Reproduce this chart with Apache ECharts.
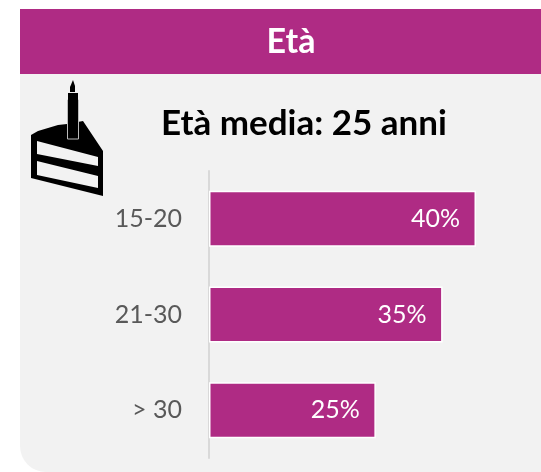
<!DOCTYPE html>
<html><head><meta charset="utf-8">
<style>html,body{margin:0;padding:0;background:#fff}#c{width:541px;height:472px}</style>
<script src="https://cdn.jsdelivr.net/npm/echarts@6/dist/echarts.min.js"></script>
</head><body><div id="c"></div>
<script>
const categories = ['15-20', '21-30', '> 30'];
const shares = [40, 35, 25];
const headerTitle = 'Età';
const subTitle = 'Età media: 25 anni';
const PURPLE = '#AF2B84';
const PANEL = '#F2F2F2';
const FONT = 'Lato, sans-serif';

const chart = echarts.init(document.getElementById('c'), null, {renderer: 'canvas'});
chart.setOption({
  animation: false,
  backgroundColor: '#fff',
  grid: {left: 209, right: 541 - 209 - 267, top: 171, bottom: 472 - 458, containLabel: false},
  xAxis: {type: 'value', min: 0, max: 40, show: false},
  yAxis: {
    type: 'category', data: categories, inverse: true,
    axisLine: {show: true, lineStyle: {color: '#D9D9D9', width: 2}},
    axisTick: {show: false},
    axisLabel: {color: '#595959', fontFamily: FONT, fontSize: 25, margin: 27}
  },
  series: [{
    type: 'bar', data: shares, barWidth: 56, z: 3,
    itemStyle: {color: PURPLE, borderColor: '#fff', borderWidth: 1.5},
    label: {show: true, position: 'insideRight', distance: 16, formatter: '{c}%',
      color: '#fff', fontFamily: FONT, fontSize: 25}
  }],
  graphic: {elements: [
    {type: 'rect', z: -10, silent: true, shape: {x: 20, y: 9, width: 521, height: 463, r: [0, 0, 0, 26]}, style: {fill: PANEL}},
    {type: 'rect', z: -9, silent: true, shape: {x: 20, y: 9, width: 521, height: 65}, style: {fill: PURPLE}},
    {type: 'text', z: 5, silent: true, x: 291, y: 42, style: {text: headerTitle, fill: '#fff', font: 'bold 34px ' + FONT, textAlign: 'center', textVerticalAlign: 'middle'}},
    {type: 'text', z: 5, silent: true, x: 304, y: 124, style: {text: subTitle, fill: '#000', font: 'bold 35px ' + FONT, textAlign: 'center', textVerticalAlign: 'middle'}},
    {type: 'polygon', z: 5, silent: true, shape: {points: [[31,135],[38,131],[48,128],[58,125],[67,124],[83,121],[103,151],[103,196],[31,178]]}, style: {fill: '#000'}},
    {type: 'polygon', z: 6, silent: true, shape: {points: [[37,141],[98,157],[98,166],[37,154]]}, style: {fill: PANEL}},
    {type: 'polygon', z: 6, silent: true, shape: {points: [[37,161],[98,176],[98,188],[37,175]]}, style: {fill: PANEL}},
    {type: 'rect', z: 7, silent: true, shape: {x: 67.5, y: 100, width: 11, height: 39}, style: {fill: '#000', stroke: '#BBB', lineWidth: 1}},
    {type: 'rect', z: 8, silent: true, shape: {x: 68, y: 93, width: 10, height: 32}, style: {fill: '#000'}},
    {type: 'polygon', z: 8, silent: true, shape: {points: [[73,80],[75,86],[75,92],[70,92],[70,87]]}, style: {fill: '#000'}}
  ]}
});
</script></body></html>
